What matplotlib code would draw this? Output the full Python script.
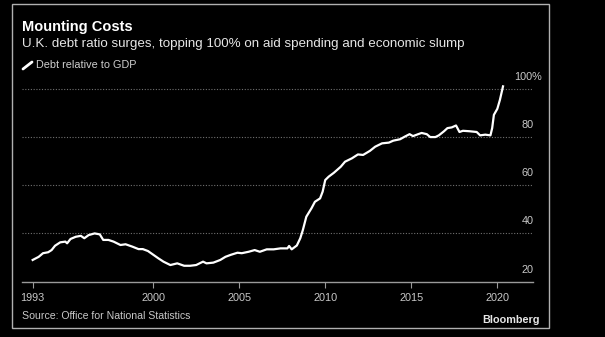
import numpy as np
import matplotlib
matplotlib.use("Agg")
import matplotlib.pyplot as plt
from matplotlib.patches import Rectangle
from matplotlib.lines import Line2D

plt.rcParams['font.family'] = ['Liberation Sans', 'DejaVu Sans']

# --- Data (decimal year, debt % of GDP) ---
years = [1993.0, 1993.35, 1993.6, 1993.9, 1994.1, 1994.3, 1994.6, 1994.9, 1995.0, 1995.2,
         1995.5, 1995.8, 1996.0, 1996.25, 1996.6, 1996.9, 1997.1, 1997.4, 1997.7, 1998.1,
         1998.4, 1998.8, 1999.15, 1999.4, 1999.7, 2000.0, 2000.3, 2000.6, 2001.0, 2001.4,
         2001.8, 2002.15, 2002.5, 2002.9, 2003.1, 2003.5, 2003.9, 2004.2, 2004.5, 2004.9,
         2005.15, 2005.55, 2005.9, 2006.2, 2006.6, 2007.0, 2007.4, 2007.8, 2007.9, 2008.05,
         2008.35, 2008.55, 2008.7, 2008.9, 2009.2, 2009.4, 2009.7, 2009.85, 2010.0, 2010.2,
         2010.5, 2010.9, 2011.15, 2011.55, 2011.9, 2012.2, 2012.6, 2012.9, 2013.3, 2013.7,
         2013.95, 2014.35, 2014.6, 2014.9, 2015.1, 2015.4, 2015.6, 2015.9, 2016.1, 2016.4,
         2016.6, 2016.9, 2017.1, 2017.35, 2017.6, 2017.8, 2018.0, 2018.4, 2018.8, 2019.0,
         2019.3, 2019.6, 2019.7, 2019.8, 2020.0, 2020.15, 2020.33]
debt = [29.0, 30.3, 31.8, 32.2, 33.1, 34.9, 36.3, 36.6, 35.9, 37.7,
        38.6, 39.0, 38.0, 39.3, 40.0, 39.6, 37.3, 37.3, 36.6, 35.2,
        35.5, 34.5, 33.5, 33.5, 32.7, 31.2, 29.7, 28.3, 26.9, 27.6,
        26.6, 26.6, 26.9, 28.3, 27.6, 27.9, 29.0, 30.3, 31.1, 32.0,
        31.8, 32.4, 33.1, 32.4, 33.4, 33.4, 33.8, 33.8, 34.8, 33.4,
        35.0, 38.0, 41.4, 46.9, 50.4, 53.1, 54.5, 57.3, 62.1, 63.5,
        65.1, 67.6, 69.7, 71.1, 72.7, 72.5, 74.2, 75.9, 77.3, 77.6,
        78.4, 79.0, 80.0, 81.1, 80.3, 81.1, 81.6, 81.1, 79.9, 79.9,
        80.6, 82.3, 83.6, 83.9, 84.7, 82.0, 82.5, 82.3, 82.0, 80.6,
        80.9, 80.6, 83.6, 89.1, 91.6, 95.3, 100.9]

x_ticks = [1993, 2000, 2005, 2010, 2015, 2020]
y_ticks = [20, 40, 60, 80, 100]
y_labels = ['20', '40', '60', '80', '100%']

W, H = 605, 337
fig = plt.figure(figsize=(W / 100, H / 100), dpi=100, facecolor='black')

# axes placed in pixel terms
left, right, bottom_px, top_px = 22, 533.3, 281.7, 83.7
ax = fig.add_axes([left / W, 1 - bottom_px / H, (right - left) / W, (bottom_px - top_px) / H])
ax.set_facecolor('black')

ax.plot(years, debt, color='white', lw=1.6, solid_joinstyle='round')

ax.set_xlim(1992.38, 2022.09)
ax.set_ylim(20, 102)

for s in ['top', 'right', 'left']:
    ax.spines[s].set_visible(False)
ax.spines['bottom'].set_color('#9a9a9a')
ax.spines['bottom'].set_linewidth(1.0)

ax.set_xticks(x_ticks)
ax.set_xticklabels([str(t) for t in x_ticks])
ax.tick_params(axis='x', colors='#9a9a9a', labelcolor='#c8c8c8', length=4, width=0.8,
               labelsize=7.8, pad=4)
ax.set_yticks([])

for v, lab in zip(y_ticks, y_labels):
    if v > 20:
        ax.axhline(v, color='#707070', lw=0.8, ls=(0, (1, 1.5)), zorder=0)
    ax.annotate(lab, xy=(1.0, v), xycoords=('axes fraction', 'data'),
                xytext=(6 if lab.endswith('%') else 0, 5), textcoords='offset points',
                ha='right', va='bottom', color='#c8c8c8', fontsize=7.8)

# titles
fig.text(22 / W, 1 - 31 / H, 'Mounting Costs', color='white', fontsize=10.5,
         fontweight='bold', ha='left', va='baseline')
fig.text(22 / W, 1 - 46.7 / H,
         'U.K. debt ratio surges, topping 100% on aid spending and economic slump',
         color='#e6e6e6', fontsize=9.6, ha='left', va='baseline')

# legend
fig.add_artist(Line2D([23 / W, 32 / W], [1 - 69 / H, 1 - 62 / H], color='white', lw=2,
                      solid_capstyle='round'))
fig.text(36 / W, 1 - 65.5 / H, 'Debt relative to GDP', color='#cfcfcf', fontsize=7.8,
         ha='left', va='center')

# footer
fig.text(22 / W, 1 - 315.7 / H, 'Source: Office for National Statistics', color='#c8c8c8',
         fontsize=7.6, ha='left', va='center')
fig.text(539.3 / W, 1 - 320 / H, 'Bloomberg', color='#e6e6e6', fontsize=7.8,
         fontweight='bold', ha='right', va='center')

# outer frame
fig.add_artist(Rectangle((12 / W, 1 - 328.3 / H), (549.3 - 12) / W, (328.3 - 4) / H,
                         transform=fig.transFigure, fill=False, edgecolor='#b0b0b0', lw=1.0))

fig.savefig('out.png', dpi=100, facecolor='black')
